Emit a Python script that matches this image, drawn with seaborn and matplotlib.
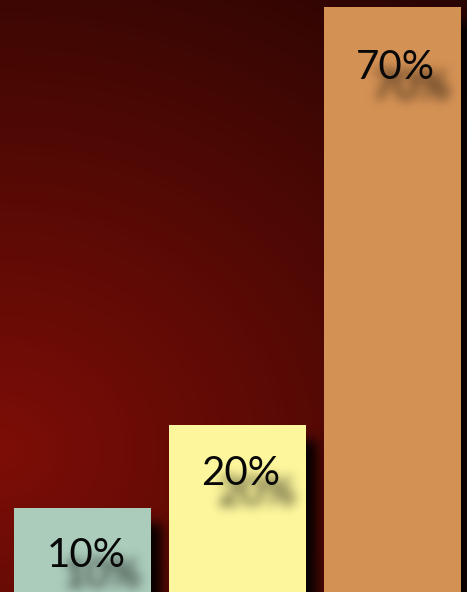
import matplotlib as mpl
mpl.use('Agg')
import matplotlib.pyplot as plt
import matplotlib.transforms as mtrans
import numpy as np
import pandas as pd
import seaborn as sns

# chart data
labels = ['10%', '20%', '70%']
shares = [10, 20, 70]
bar_colors = ['#abccbb', '#fdf69c', '#d49154']

df = pd.DataFrame({'label': labels, 'share': shares})


def gauss_kernel(sigma):
    r = int(3 * sigma)
    x = np.arange(-r, r + 1)
    k = np.exp(-0.5 * (x / sigma) ** 2)
    return k / k.sum()


def shadow_filter(sigma, dx, dy, alpha):
    # agg filter: shift + gaussian blur, keeps only a black shadow
    def f(im, dpi):
        pad = int(3 * sigma) + int(max(abs(dx), abs(dy))) + 2
        a = np.pad(im[..., 3], pad)
        a = np.roll(a, int(dx), axis=1)
        a = np.roll(a, int(dy), axis=0)
        k = gauss_kernel(sigma)
        a = np.apply_along_axis(lambda r: np.convolve(r, k, mode='same'), 1, a)
        a = np.apply_along_axis(lambda c: np.convolve(c, k, mode='same'), 0, a)
        out = np.zeros(a.shape + (4,))
        out[..., 3] = np.clip(a * alpha, 0, 1)
        return out, -pad, -pad
    return f


sns.set_style('white')
plt.rcParams['font.family'] = ['Lato', 'DejaVu Sans']

W, H = 467, 592
fig = plt.figure(figsize=(W / 100, H / 100), dpi=100)
ax = fig.add_axes([0, 0, 1, 1])

# dark red radial background, brighter towards the lower left
yy, xx = np.mgrid[0:H, 0:W]
d = np.hypot(xx / 700.0, (yy - 450) / 600.0)
r = np.clip(125 - 85 * d, 30, 130) / 255
bg = np.dstack([r, r * 0.11, r * 0.055])
ax.imshow(bg, extent=[0, 1, 0, 1], transform=ax.transAxes, aspect='auto', zorder=0)

bar_w = 0.886

# soft shadow of the bars
sns.barplot(data=df, x='label', y='share', color='black', width=bar_w,
            linewidth=0, saturation=1, ax=ax, zorder=1)
for p in ax.patches:
    p.set_agg_filter(shadow_filter(6, 11, 15, 0.95))

sns.barplot(data=df, x='label', y='share', hue='label', palette=bar_colors,
            width=bar_w, linewidth=0, saturation=1, legend=False, ax=ax, zorder=2)

# labels with blurred drop shadow
for i, (lab, v) in enumerate(zip(labels, shares)):
    dy = -(56 + 0.23 * v)
    tr = mtrans.offset_copy(ax.transData, fig=fig, x=3, y=dy, units='dots')
    sh = ax.text(i, v, lab, transform=tr, ha='center', va='baseline',
                 fontsize=29, color='black', zorder=3)
    sh.set_agg_filter(shadow_filter(5.5, 16, 20, 0.9))
    ax.text(i, v, lab, transform=tr, ha='center', va='baseline',
            fontsize=29, color='#080808', zorder=4)

ax.set_xlim(-0.535, 2.48)
ax.set_ylim(0, 70 * H / 585)
ax.set_axis_off()

fig.savefig('out.png', dpi=100)
